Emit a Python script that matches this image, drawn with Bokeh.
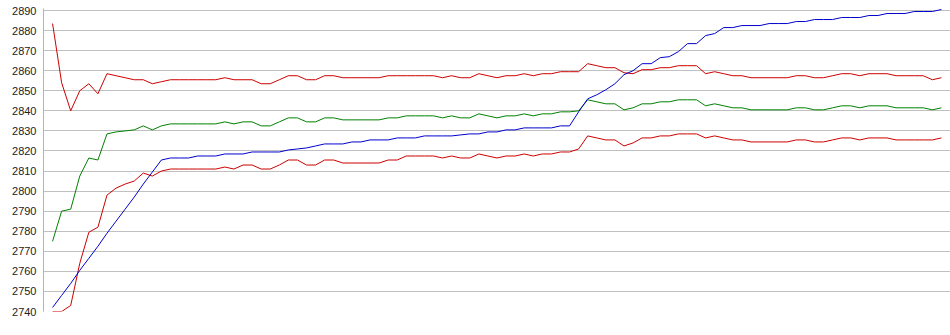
from bokeh.plotting import figure
from bokeh.models import Range1d, FixedTicker
from bokeh.embed import file_html
from bokeh.resources import INLINE

# --- data ---
idx = list(range(1, 100))

upper_red = [2883.5, 2854, 2840, 2850, 2853.5, 2848.5, 2858.5, 2857.5, 2856.5, 2855.5,
             2855.5, 2853.5, 2854.5, 2855.5, 2855.5, 2855.5, 2855.5, 2855.5, 2855.5, 2856.5,
             2855.5, 2855.5, 2855.5, 2853.5, 2853.5, 2855.5, 2857.5, 2857.5, 2855.5, 2855.5,
             2857.5, 2857.5, 2856.5, 2856.5, 2856.5, 2856.5, 2856.5, 2857.5, 2857.5, 2857.5,
             2857.5, 2857.5, 2857.5, 2856.5, 2857.5, 2856.5, 2856.5, 2858.5, 2857.5, 2856.5,
             2857.5, 2857.5, 2858.5, 2857.5, 2858.5, 2858.5, 2859.5, 2859.5, 2859.5, 2863.5,
             2862.5, 2861.5, 2861.5, 2859, 2858.5, 2860.5, 2860.5, 2861.5, 2861.5, 2862.5,
             2862.5, 2862.5, 2858.5, 2859.5, 2858.5, 2857.5, 2857.5, 2856.5, 2856.5, 2856.5,
             2856.5, 2856.5, 2857.5, 2857.5, 2856.5, 2856.5, 2857.5, 2858.5, 2858.5, 2857.5,
             2858.5, 2858.5, 2858.5, 2857.5, 2857.5, 2857.5, 2857.5, 2855.5, 2856.5]

green = [2775, 2790, 2791, 2807.5, 2816.5, 2815.5, 2828.5, 2829.5, 2830, 2830.5,
         2832.5, 2830.5, 2832.5, 2833.5, 2833.5, 2833.5, 2833.5, 2833.5, 2833.5, 2834.5,
         2833.5, 2834.5, 2834.5, 2832.5, 2832.5, 2834.5, 2836.5, 2836.5, 2834.5, 2834.5,
         2836.5, 2836.5, 2835.5, 2835.5, 2835.5, 2835.5, 2835.5, 2836.5, 2836.5, 2837.5,
         2837.5, 2837.5, 2837.5, 2836.5, 2837.5, 2836.5, 2836.5, 2838.5, 2837.5, 2836.5,
         2837.5, 2837.5, 2838.5, 2837.5, 2838.5, 2838.5, 2839.5, 2839.5, 2840, 2845.5,
         2844.5, 2843.5, 2843.5, 2840.5, 2841.5, 2843.5, 2843.5, 2844.5, 2844.5, 2845.5,
         2845.5, 2845.5, 2842.5, 2843.5, 2842.5, 2841.5, 2841.5, 2840.5, 2840.5, 2840.5,
         2840.5, 2840.5, 2841.5, 2841.5, 2840.5, 2840.5, 2841.5, 2842.5, 2842.5, 2841.5,
         2842.5, 2842.5, 2842.5, 2841.5, 2841.5, 2841.5, 2841.5, 2840.5, 2841.5]

lower_red = [2740, 2740, 2743, 2764, 2779.5, 2782, 2798, 2801.5, 2803.5, 2805,
             2809, 2807.5, 2810, 2811, 2811, 2811, 2811, 2811, 2811, 2812,
             2811, 2813, 2813, 2811, 2811, 2813, 2815.5, 2815.5, 2813, 2813,
             2815.5, 2815.5, 2814, 2814, 2814, 2814, 2814, 2815.5, 2815.5, 2817.5,
             2817.5, 2817.5, 2817.5, 2816.5, 2817.5, 2816.5, 2816.5, 2818.5, 2817.5, 2816.5,
             2817.5, 2817.5, 2818.5, 2817.5, 2818.5, 2818.5, 2819.5, 2819.5, 2821, 2827.5,
             2826.5, 2825.5, 2825.5, 2822.5, 2824, 2826.5, 2826.5, 2827.5, 2827.5, 2828.5,
             2828.5, 2828.5, 2826.5, 2827.5, 2826.5, 2825.5, 2825.5, 2824.5, 2824.5, 2824.5,
             2824.5, 2824.5, 2825.5, 2825.5, 2824.5, 2824.5, 2825.5, 2826.5, 2826.5, 2825.5,
             2826.5, 2826.5, 2826.5, 2825.5, 2825.5, 2825.5, 2825.5, 2825.5, 2826.5]

blue = [2742, 2748, 2754, 2760.5, 2766.5, 2772.5, 2779, 2785, 2791, 2797,
        2803.5, 2809.5, 2815.5, 2816.5, 2816.5, 2816.5, 2817.5, 2817.5, 2817.5, 2818.5,
        2818.5, 2818.5, 2819.5, 2819.5, 2819.5, 2819.5, 2820.5, 2821, 2821.5, 2822.5,
        2823.5, 2823.5, 2823.5, 2824.5, 2824.5, 2825.5, 2825.5, 2825.5, 2826.5, 2826.5,
        2826.5, 2827.5, 2827.5, 2827.5, 2827.5, 2828, 2828.5, 2828.5, 2829.5, 2829.5,
        2830.5, 2830.5, 2831.5, 2831.5, 2831.5, 2831.5, 2832.5, 2832.5, 2839.5, 2846,
        2848, 2850.5, 2853.5, 2858, 2860, 2863.5, 2863.5, 2866.5, 2867, 2869.5,
        2873.5, 2873.5, 2877.5, 2878.5, 2881.5, 2881.5, 2882.5, 2882.5, 2882.5, 2883.5,
        2883.5, 2883.5, 2884.5, 2884.5, 2885.5, 2885.5, 2885.5, 2886.5, 2886.5, 2886.5,
        2887.5, 2887.5, 2888.5, 2888.5, 2888.5, 2889.5, 2889.5, 2889.5, 2890.5]

y_ticks = list(range(2740, 2891, 10))

# --- figure ---
p = figure(width=950, height=335, output_backend="svg", toolbar_location=None,
           x_range=Range1d(0, 100), y_range=Range1d(2740, 2891),
           min_border_left=43, min_border_right=0, min_border_top=8, min_border_bottom=24,
           title=None)
p.outline_line_color = None
p.background_fill_color = "white"
p.border_fill_color = "white"

p.xaxis.visible = False
p.xgrid.grid_line_color = None
p.ygrid.grid_line_color = "#c0c0c0"
p.ygrid.grid_line_width = 1

yax = p.yaxis[0]
yax.ticker = FixedTicker(ticks=y_ticks)
yax.axis_line_color = "#b4b4b4"
yax.major_tick_line_color = None
yax.minor_tick_line_color = None
yax.major_tick_out = 0
yax.major_tick_in = 0
yax.major_label_standoff = 7
yax.major_label_text_font = "Liberation Sans"
yax.major_label_text_font_size = "11px"
yax.major_label_text_color = "#222222"

p.line(idx, upper_red, line_color="#cc0000", line_width=1)
p.line(idx, lower_red, line_color="#cc0000", line_width=1)
p.line(idx, green, line_color="#008000", line_width=1)
p.line(idx, blue, line_color="#0000cc", line_width=1)

open("out.html", "w").write(file_html(p, INLINE))
